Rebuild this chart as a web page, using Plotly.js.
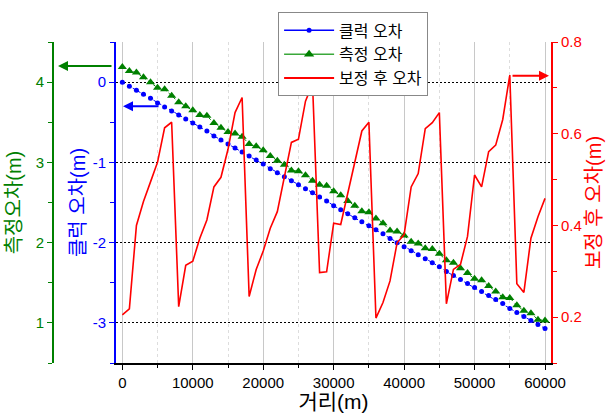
<!DOCTYPE html>
<html>
<head>
<meta charset="utf-8">
<script src="https://cdn.plot.ly/plotly-3.0.1.min.js"></script>
<style>html,body{margin:0;padding:0;background:#fff;}#chart{width:608px;height:414px;}</style>
</head>
<body>
<div id="chart"></div>
<script>
const distance = [0,1000,2000,3000,4000,5000,6000,7000,8000,9000,10000,11000,12000,13000,14000,15000,16000,17000,18000,19000,20000,21000,22000,23000,24000,25000,26000,27000,28000,29000,30000,31000,32000,33000,34000,35000,36000,37000,38000,39000,40000,41000,42000,43000,44000,45000,46000,47000,48000,49000,50000,51000,52000,53000,54000,55000,56000,57000,58000,59000,60000];
const clockError = [0,-0.05,-0.10,-0.15,-0.20,-0.26,-0.31,-0.36,-0.41,-0.46,-0.51,-0.56,-0.61,-0.67,-0.72,-0.77,-0.82,-0.87,-0.92,-0.97,-1.02,-1.08,-1.13,-1.18,-1.23,-1.28,-1.33,-1.38,-1.43,-1.48,-1.54,-1.59,-1.64,-1.69,-1.74,-1.79,-1.84,-1.89,-1.95,-2.00,-2.05,-2.10,-2.15,-2.20,-2.25,-2.30,-2.36,-2.41,-2.46,-2.51,-2.56,-2.61,-2.66,-2.71,-2.76,-2.82,-2.87,-2.92,-2.97,-3.02,-3.07];
const measError = [4.19,4.14,4.12,4.06,4.00,3.93,3.91,3.83,3.75,3.70,3.65,3.59,3.58,3.49,3.43,3.38,3.36,3.32,3.23,3.20,3.15,3.08,3.02,2.97,2.90,2.89,2.84,2.77,2.72,2.71,2.64,2.59,2.52,2.46,2.39,2.38,2.30,2.24,2.15,2.14,2.09,2.01,1.99,1.93,1.92,1.86,1.78,1.75,1.68,1.62,1.55,1.53,1.46,1.39,1.32,1.31,1.22,1.15,1.12,1.04,1.03];
const corrError = [0.205,0.218,0.400,0.452,0.495,0.538,0.613,0.625,0.223,0.313,0.322,0.372,0.412,0.484,0.505,0.566,0.646,0.679,0.245,0.304,0.344,0.394,0.430,0.509,0.581,0.588,0.671,0.709,0.297,0.299,0.405,0.402,0.470,0.541,0.606,0.625,0.198,0.232,0.279,0.362,0.380,0.484,0.513,0.611,0.624,0.646,0.229,0.304,0.315,0.376,0.510,0.484,0.561,0.575,0.631,0.728,0.273,0.254,0.372,0.419,0.459];
const seriesNames = ['클럭 오차','측정 오차','보정 후 오차'];
const clockTickVals = [0,-1,-2,-3];
const clockTickText = ['0','-1','-2','-3'];

const FONT = 'Liberation Sans, Arial, Noto Sans CJK KR, sans-serif';
const BLUE = '#0000ff', GREEN = '#008000', LEGGREEN = '#3aa83a', RED = '#ff0000';

const traces = [
  {x: distance, y: clockError, name: seriesNames[0], yaxis: 'y', type: 'scatter', mode: 'lines+markers', showlegend: false,
   line: {color: BLUE, width: 1, dash: 'dot'}, marker: {color: BLUE, size: 5, symbol: 'circle'}},
  {x: distance, y: measError, name: seriesNames[1], yaxis: 'y2', type: 'scatter', mode: 'lines+markers', showlegend: false,
   line: {color: GREEN, width: 1, dash: 'dot'}, marker: {color: GREEN, size: 8, symbol: 'triangle-up'}},
  {x: distance, y: corrError, name: seriesNames[2], yaxis: 'y3', type: 'scatter', mode: 'lines', showlegend: false,
   line: {color: RED, width: 1.6}},
  // legend entries (solid lines as in the original legend)
  {x: [null], y: [null], name: seriesNames[0], yaxis: 'y', type: 'scatter', mode: 'lines+markers',
   line: {color: BLUE, width: 1.5}, marker: {color: BLUE, size: 5}},
  {x: [null], y: [null], name: seriesNames[1], yaxis: 'y2', type: 'scatter', mode: 'lines+markers',
   line: {color: LEGGREEN, width: 1.5}, marker: {color: GREEN, size: 9, symbol: 'triangle-up'}},
  {x: [null], y: [null], name: seriesNames[2], yaxis: 'y3', type: 'scatter', mode: 'lines',
   line: {color: RED, width: 2}}
];

const layout = {
  width: 608, height: 414,
  margin: {l: 53, r: 57, t: 38, b: 51, pad: 0},
  paper_bgcolor: '#fff', plot_bgcolor: '#fff',
  font: {family: FONT, size: 15, color: '#000'},
  showlegend: true,
  legend: {x: 0.452, y: 1.092, xanchor: 'left', yanchor: 'top', bgcolor: '#fff',
           bordercolor: '#888', borderwidth: 1, font: {size: 16, family: FONT}, itemwidth: 50, tracegroupgap: 0,
           entrywidth: 168, entrywidthmode: 'pixels'},
  xaxis: {domain: [0.1265, 1], range: [-900, 60850], tick0: 0, dtick: 10000, tickformat: 'd',
          showgrid: true, gridcolor: '#c8c8c8', gridwidth: 1, zeroline: false,
          showline: true, linecolor: '#000', linewidth: 1.5,
          ticks: 'outside', ticklen: 5, tickcolor: '#000', tickfont: {size: 15, color: '#000'},
          minor: {dtick: 5000, tick0: 0, showgrid: true, gridcolor: '#dddddd', griddash: 'dot', ticks: 'outside', ticklen: 3, tickcolor: '#000'},
          title: {text: '거리(m)', font: {size: 21, color: '#000'}, standoff: 4}},
  yaxis: {range: [-3.5, 0.5], tickmode: 'array', tickvals: clockTickVals, ticktext: clockTickText,
          showgrid: true, gridcolor: '#000', griddash: '2px,2px', gridwidth: 1,
          zeroline: false, showline: true, linecolor: BLUE, linewidth: 2,
          ticks: 'outside', ticklen: 5, tickcolor: BLUE, tickfont: {size: 15, color: BLUE},
          minor: {dtick: 0.5, tick0: 0, ticks: 'outside', ticklen: 4, tickcolor: BLUE},
          title: {text: '클럭 오차(m)', font: {size: 20, color: BLUE}, standoff: 2}},
  yaxis2: {overlaying: 'y', anchor: 'free', position: 0, side: 'left', range: [0.5, 4.5], tick0: 0, dtick: 1,
           showgrid: false, zeroline: false, showline: true, linecolor: GREEN, linewidth: 2,
           ticks: 'outside', ticklen: 5, tickcolor: GREEN, tickfont: {size: 15, color: GREEN},
           minor: {dtick: 0.5, ticks: 'outside', ticklen: 4, tickcolor: GREEN},
           title: {text: '측정오차(m)', font: {size: 20, color: GREEN}, standoff: 8}},
  yaxis3: {overlaying: 'y', anchor: 'x', side: 'right', range: [0.1, 0.8], tick0: 0, dtick: 0.2,
           showgrid: false, zeroline: false, showline: true, linecolor: RED, linewidth: 2,
           ticks: 'outside', ticklen: 5, tickcolor: RED, tickfont: {size: 15, color: RED},
           minor: {dtick: 0.1, ticks: 'outside', ticklen: 4, tickcolor: RED},
           title: {text: '보정 후 오차(m)', font: {size: 20, color: RED}, standoff: 6}},
  annotations: [
    {xref: 'paper', yref: 'paper', x: 0.010, y: 0.925, text: '', showarrow: true, ax: 55, ay: 0,
     arrowcolor: GREEN, arrowwidth: 2, arrowhead: 2, arrowsize: 1, standoff: 0},
    {xref: 'paper', yref: 'paper', x: 0.1406, y: 0.80, text: '', showarrow: true, ax: 37, ay: 0,
     arrowcolor: BLUE, arrowwidth: 2, arrowhead: 2, arrowsize: 1, standoff: 0},
    {xref: 'paper', yref: 'paper', x: 0.996, y: 0.8945, text: '', showarrow: true, ax: -38, ay: 0,
     arrowcolor: RED, arrowwidth: 2, arrowhead: 2, arrowsize: 1, standoff: 0}
  ]
};

Plotly.newPlot('chart', traces, layout, {displayModeBar: false, staticPlot: true});
</script>
</body>
</html>
